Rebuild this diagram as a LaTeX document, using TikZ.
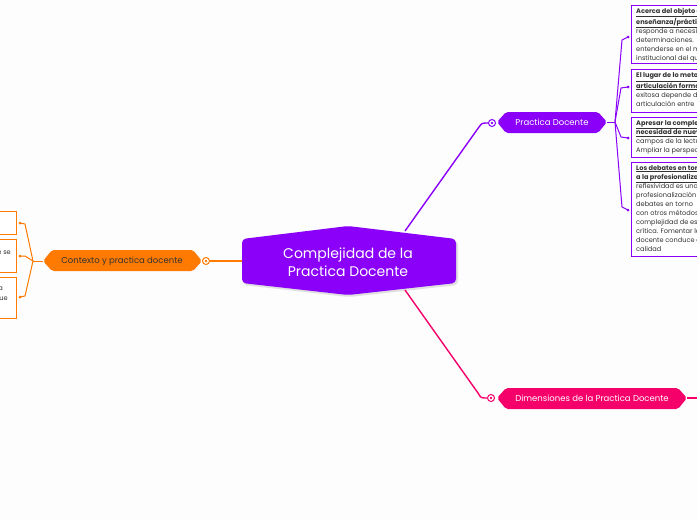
\documentclass[tikz,border=0pt]{standalone}
\usepackage{fontspec}
\setmainfont{Poppins}
\definecolor{vio}{HTML}{8A00F9}
\definecolor{org}{HTML}{FF7A00}
\definecolor{pnk}{HTML}{F5006A}
\definecolor{txt}{HTML}{333333}
\definecolor{bg}{HTML}{FDFDFE}
\tikzset{
  mark circ/.style={circle, draw=#1, fill=white, line width=1pt, inner sep=0pt, minimum size=7pt, path picture={\fill[#1] (path picture bounding box.center) circle (1.3pt);}},
  dotend/.style={circle, fill=#1, inner sep=0pt, minimum size=3pt},
  boxtext/.style={anchor=north west, align=left, inner sep=0pt, font=\fontsize{6.6}{9.1}\selectfont, text=txt},
  leaftext/.style={anchor=north east, align=right, inner sep=0pt, font=\fontsize{6.6}{9.6}\selectfont, text=txt},
  conn/.style={line width=1pt}
}
\begin{document}
\begin{tikzpicture}[x=1pt,y=-1pt]
\useasboundingbox (0,0) rectangle (697,520);
\fill[bg] (0,0) rectangle (697,520);
\clip (0,0) rectangle (697,520);

% ---------- central node ----------
\fill[black!12, rounded corners=4pt] (243,241)--(349,228)--(458,241)--(458,285)--(349,297)--(243,285)--cycle;
\fill[vio, rounded corners=4pt] (242,239)--(348,226)--(456,239)--(456,283)--(348,295)--(242,283)--cycle;
\node[text=white, align=center, font=\fontsize{14}{18}\selectfont] (central) at (348,262) {Complejidad de la\\ Practica Docente};

% ---------- Practica Docente ----------
\fill[vio, rounded corners=2pt] (497,122)--(506,112)--(598,112)--(607,122)--(598,133)--(506,133)--cycle;
\node[text=white, font=\fontsize{8.5}{10}\selectfont] (pd) at (552,122.5) {Practica Docente};
\node[mark circ=vio] (pdc) at (492,123) {};
\coordinate (ct) at (405,231);
\draw[vio, line width=1.4pt] (ct) -- (479,127) .. controls (482,123) .. (pdc.west);
\coordinate (pdr) at (607,122);
\coordinate (pds) at (615,122);

% boxes on the right
\draw[vio, line width=1pt, fill=white] (631,5) rectangle (710,63);
\draw[vio, line width=1pt, fill=white] (631,69) rectangle (710,112);
\draw[vio, line width=1pt, fill=white] (631,117) rectangle (710,157);
\draw[vio, line width=1pt, fill=white] (631,162) rectangle (710,256);

\node[boxtext] (b1) at (636,8) {\textbf{\underline{Acerca del objeto de}}\\\textbf{\underline{enseñanza/práctica}}\\responde a necesidades\\determinaciones.\\entenderse en el marco\\institucional del que};
\node[boxtext] (b2) at (636,72) {\textbf{\underline{El lugar de lo metodológico}}\\\textbf{\underline{articulación forma}}\\exitosa depende de\\articulación entre};
\node[boxtext] (b3) at (636,120) {\textbf{\underline{Apresar la complejidad}}\\\textbf{\underline{necesidad de nuevos}}\\campos de la lectura\\Ampliar la perspectiva};
\node[boxtext] (b4) at (636,165) {\textbf{\underline{Los debates en torno}}\\\textbf{\underline{a la profesionalización}}\\reflexividad es una\\profesionalización\\debates en torno\\con otros métodos\\complejidad de esta\\crítica. Fomentar la\\docente conduce a\\calidad};

\node[dotend=vio] (d1) at (628,37) {};
\node[dotend=vio] (d2) at (628,87) {};
\node[dotend=vio] (d3) at (628,138) {};
\node[dotend=vio] (d4) at (628,210) {};
\draw[vio, conn] (pdr) -- (pds);
\draw[vio, conn] (pds) -- (622,40) -- (d1.center);
\draw[vio, conn] (pds) -- (621,88) -- (d2.center);
\draw[vio, conn] (pds) -- (621,137) -- (d3.center);
\draw[vio, conn] (pds) -- (622,207) -- (d4.center);

% ---------- Dimensiones ----------
\fill[pnk, rounded corners=2pt] (497,398)--(506,388)--(678,388)--(687,398)--(678,409)--(506,409)--cycle;
\node[text=white, font=\fontsize{8.5}{10}\selectfont] (dim) at (592,398.5) {Dimensiones de la Practica Docente};
\node[mark circ=pnk] (dimc) at (491,398) {};
\coordinate (cb) at (405,290);
\draw[pnk, line width=1.4pt] (cb) -- (478,393) .. controls (481,398) .. (dimc.west);
\coordinate (dimr) at (687,398);
\coordinate (dimend) at (697,398);
\draw[pnk, line width=1.4pt] (dimr) -- (dimend);

% ---------- Contexto ----------
\fill[org, rounded corners=2pt] (43,261)--(52,250)--(193,250)--(202,261)--(193,271)--(52,271)--cycle;
\node[text=txt, font=\fontsize{8.5}{10}\selectfont] (ctx) at (122,261) {Contexto y practica docente};
\node[mark circ=org] (ctxc) at (206,261) {};
\coordinate (cl) at (242,261);
\draw[org, line width=1.4pt] (ctxc.east) -- (cl);

\draw[org, line width=1pt, fill=white] (-10,211) rectangle (16,234);
\draw[org, line width=1pt, fill=white] (-10,239) rectangle (16,272);
\draw[org, line width=1pt, fill=white] (-10,277) rectangle (16,318);
\node[leaftext] (l2) at (11,251) {e se};
\node[leaftext] (l3a) at (3,287) {a};
\node[leaftext] (l3b) at (8,297) {ue};

\node[dotend=org] (e1) at (20,223) {};
\node[dotend=org] (e2) at (20,256) {};
\node[dotend=org] (e3) at (20,297) {};
\coordinate (cxl) at (43,261);
\coordinate (cxs) at (33,261);
\draw[org, conn] (cxl) -- (cxs);
\draw[org, conn] (cxs) -- (25,224) -- (e1.center);
\draw[org, conn] (cxs) -- (25,256) -- (e2.center);
\draw[org, conn] (cxs) -- (25,296) -- (e3.center);
\end{tikzpicture}
\end{document}
